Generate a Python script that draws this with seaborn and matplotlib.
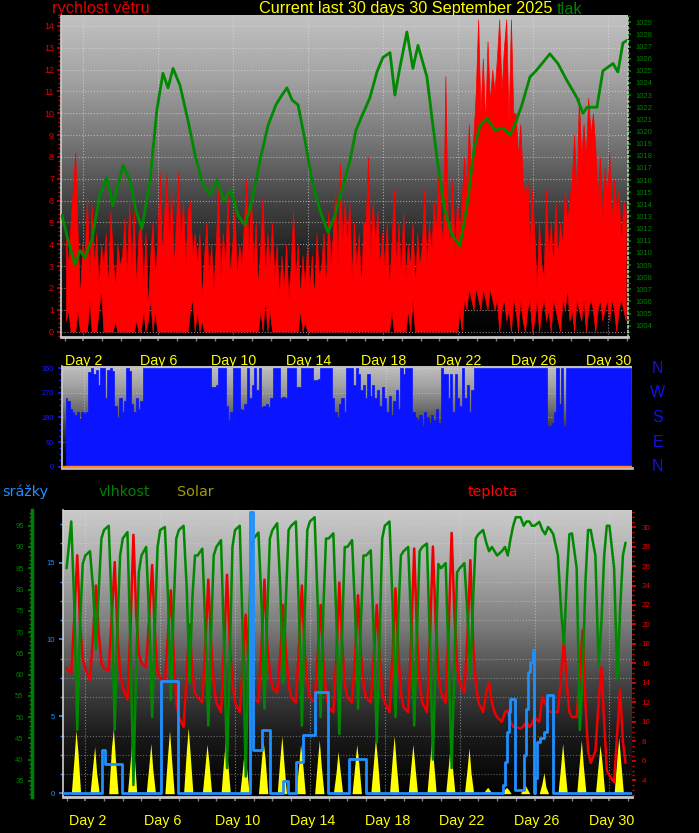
import numpy as np
import pandas as pd
import matplotlib
matplotlib.use("Agg")
import matplotlib.pyplot as plt
import matplotlib.transforms as mtransforms
import seaborn as sns
from matplotlib.colors import LinearSegmentedColormap
from matplotlib.ticker import MultipleLocator

sns.set_theme(style="dark")
plt.rcParams['font.family'] = ['Liberation Sans', 'DejaVu Sans']

# ---- data (days since 1 Sep 00:00) ----
press_t = [-0.15, 0.17, 0.55, 0.81, 1.08, 1.45, 1.88, 2.25, 2.57, 2.84, 3.11, 3.48, 3.80, 4.12,
           4.55, 4.92, 5.24, 5.51, 5.78, 6.15, 6.58, 6.95, 7.38, 7.75, 8.12, 8.50, 8.87, 9.25,
           9.62, 9.99, 10.42, 10.85, 11.27, 11.59, 11.86, 12.13, 12.45, 12.82, 13.19, 13.62,
           14.05, 14.42, 14.79, 15.22, 15.54, 15.81, 16.29, 16.66, 16.98, 17.36, 17.62, 17.89,
           18.26, 18.58, 18.85, 19.33, 19.60, 19.92, 20.29, 20.66, 21.09, 21.47, 21.84, 22.16,
           22.53, 22.96, 23.39, 23.76, 24.08, 24.40, 24.83, 25.15, 25.47, 25.89, 26.32, 26.80,
           27.33, 27.66, 27.87, 28.40, 28.72, 29.26, 29.52, 29.79, 30.00]
press = [1013.1, 1011.1, 1009.0, 1010.2, 1009.6, 1011.1, 1014.8, 1016.2, 1013.9, 1015.6, 1017.2,
         1016.0, 1013.5, 1012.0, 1016.0, 1021.8, 1024.8, 1023.6, 1025.2, 1023.8, 1020.9, 1018.1,
         1015.6, 1014.8, 1016.0, 1014.3, 1015.2, 1013.1, 1012.3, 1014.3, 1017.6, 1020.5, 1022.2,
         1023.0, 1023.6, 1022.6, 1022.2, 1019.3, 1016.0, 1013.5, 1011.7, 1013.1, 1015.2, 1017.6,
         1020.1, 1021.1, 1022.8, 1024.9, 1026.1, 1026.5, 1023.0, 1025.3, 1028.2, 1025.2, 1027.1,
         1024.5, 1021.1, 1017.2, 1013.5, 1011.5, 1010.6, 1013.9, 1018.5, 1020.5, 1021.1, 1020.1,
         1020.3, 1019.7, 1020.8, 1022.2, 1024.5, 1025.0, 1025.6, 1026.4, 1025.6, 1024.2, 1022.8,
         1021.5, 1022.0, 1022.0, 1025.0, 1025.6, 1024.9, 1027.3, 1027.5]

# wind gust (top of red) and lull (bottom of red), 8 values per day (3-hourly)
wind_hi = [4.5, 3.0, 5.0, 6.6, 8.2, 4.5, 1.5, 4.0,
           3.5, 6.2, 2.5, 5.8, 3.0, 4.5, 2.0, 4.0,
           3.0, 4.5, 2.0, 5.5, 3.5, 2.0, 4.0, 3.0,
           3.5, 5.2, 2.5, 6.0, 3.0, 5.5, 2.0, 4.5,
           5.0, 2.0, 4.5, 1.0, 3.5, 5.0, 2.5, 4.0,
           7.3, 3.5, 5.5, 7.2, 4.0, 6.5, 3.0, 5.0,
           7.3, 4.0, 6.0, 3.0, 5.5, 6.0, 3.5, 4.5,
           3.0, 4.5, 1.5, 3.5, 5.0, 2.5, 4.0, 2.0,
           4.0, 6.5, 2.5, 4.5, 3.0, 6.3, 2.5, 4.0,
           5.5, 2.5, 4.0, 3.0, 5.0, 7.0, 3.5, 6.3,
           3.0, 5.0, 2.0, 4.0, 6.2, 2.5, 4.5, 3.0,
           5.0, 2.5, 4.0, 1.5, 3.5, 2.0, 4.0, 1.5,
           3.0, 5.5, 2.5, 4.0, 1.5, 3.5, 2.0, 4.0,
           2.0, 3.5, 1.5, 4.5, 2.5, 3.0, 4.5, 2.0,
           5.5, 3.0, 4.5, 6.5, 3.0, 7.7, 4.0, 6.0,
           4.0, 6.0, 2.5, 5.0, 3.0, 4.5, 2.0, 5.0,
           5.0, 8.0, 3.5, 6.0, 4.0, 5.5, 3.0, 4.5,
           3.0, 5.0, 2.0, 4.0, 6.5, 3.0, 5.0, 2.5,
           5.5, 2.5, 4.0, 3.0, 5.0, 2.0, 4.5, 3.0,
           4.0, 6.5, 3.0, 5.0, 3.5, 6.0, 4.5, 7.7,
           5.0, 4.0, 11.7, 5.0, 4.0, 7.0, 3.5, 6.0,
           4.5, 6.0, 8.0, 6.5, 9.5, 7.0, 9.0, 11.0,
           14.3, 10.0, 12.5, 9.5, 13.3, 10.5, 12.0, 11.0,
           12.5, 14.3, 11.0, 13.0, 14.3, 9.5, 14.3, 10.0,
           10.0, 8.0, 9.5, 7.0, 6.0, 7.0, 4.0, 6.5,
           4.5, 2.0, 5.0, 3.0, 2.5, 6.5, 3.5, 5.0,
           3.0, 6.0, 3.5, 5.0, 4.0, 6.5, 5.0, 6.0,
           7.0, 9.0, 6.0, 10.7, 8.0, 9.5, 8.0, 10.7,
           9.0, 10.0, 8.5, 6.0, 8.0, 5.0, 7.5, 6.0,
           8.2, 5.0, 7.0, 5.5, 6.5, 4.0, 6.0, 5.5]
wind_lo = [0.5, 1.0, 0.0, 0.0, 0.0, 1.0, 0.0, 0.0,
           0.0, 0.0, 1.5, 0.0, 0.0, 0.0, 1.0, 2.0,
           0.0, 0.0, 0.0, 0.0, 0.0, 0.5, 0.0, 0.0,
           0.0, 0.0, 0.0, 0.0, 0.0, 0.0, 0.5, 0.0,
           0.0, 1.0, 0.0, 0.5, 1.5, 0.0, 1.0, 0.0,
           0.0, 0.0, 0.0, 0.0, 0.0, 0.0, 0.0, 0.0,
           0.0, 0.0, 0.0, 0.0, 0.0, 1.0, 1.5, 0.0,
           1.0, 0.0, 0.5, 0.0, 0.0, 0.0, 0.0, 0.0,
           0.0, 0.0, 0.0, 0.0, 0.0, 0.0, 0.0, 0.0,
           0.0, 0.0, 0.0, 0.0, 0.0, 0.0, 0.0, 0.0,
           0.0, 0.0, 0.0, 1.0, 0.0, 1.5, 0.0, 1.0,
           0.0, 0.0, 0.0, 0.0, 0.0, 0.0, 0.0, 0.0,
           0.0, 0.0, 0.0, 0.0, 1.0, 0.0, 0.5, 0.0,
           0.0, 0.0, 0.0, 0.0, 0.0, 0.0, 0.0, 0.0,
           0.0, 0.0, 0.0, 0.0, 0.0, 0.0, 0.0, 0.0,
           0.0, 0.0, 0.0, 0.0, 0.0, 0.0, 0.0, 0.0,
           0.0, 0.0, 0.0, 0.0, 0.0, 0.0, 0.0, 0.0,
           0.0, 0.0, 0.0, 1.0, 0.0, 0.0, 0.0, 0.0,
           0.0, 0.0, 1.0, 0.0, 1.5, 0.0, 0.0, 0.0,
           0.0, 0.0, 0.0, 0.0, 0.0, 0.0, 0.0, 0.0,
           0.0, 0.0, 0.0, 0.0, 0.0, 0.0, 0.0, 0.0,
           1.0, 0.0, 1.5, 1.0, 2.0, 1.5, 1.0, 2.0,
           1.5, 1.0, 2.0, 1.5, 1.0, 2.0, 1.5, 1.0,
           1.5, 0.0, 1.0, 1.5, 0.5, 1.0, 0.0, 1.5,
           1.0, 0.0, 1.5, 0.5, 0.0, 1.0, 1.5, 0.0,
           0.5, 1.5, 0.0, 1.0, 1.5, 0.5, 1.0, 0.0,
           1.5, 1.0, 0.5, 0.0, 1.5, 1.0, 2.0, 0.5,
           1.0, 0.0, 1.5, 1.0, 0.5, 1.5, 0.0, 1.0,
           1.5, 1.0, 0.0, 1.0, 1.5, 0.5, 1.0, 1.5,
           0.5, 1.5, 1.0, 0.0, 1.0, 1.5, 1.0, 0.5]

# wind direction (deg), 8 values per day (3-hourly)
wdir = [250, 240, 210, 200, 190, 200, 175, 200,
        195, 200, 345, 360, 340, 355, 300, 360,
        360, 250, 355, 360, 350, 220, 180, 250,
        200, 240, 360, 350, 230, 200, 250, 210,
        240, 360, 360, 360, 360, 360, 360, 360,
        360, 360, 360, 360, 360, 360, 360, 360,
        360, 360, 360, 360, 360, 360, 360, 360,
        360, 360, 360, 360, 360, 360, 293, 290,
        300, 360, 360, 360, 220, 170, 200, 360,
        360, 360, 210, 207, 230, 360, 250, 300,
        360, 280, 360, 217, 220, 230, 217, 250,
        360, 360, 360, 250, 255, 250, 360, 360,
        360, 360, 293, 293, 360, 360, 360, 360,
        360, 317, 317, 320, 360, 360, 360, 360,
        360, 250, 200, 180, 230, 250, 200, 360,
        360, 360, 300, 360, 340, 280, 300, 250,
        340, 260, 300, 250, 280, 220, 290, 250,
        200, 260, 190, 240, 280, 210, 360, 340,
        360, 360, 360, 200, 180, 170, 190, 150,
        200, 180, 160, 190, 170, 210, 160, 360,
        340, 340, 250, 340, 200, 340, 250, 220,
        360, 250, 300, 200, 280, 360, 360, 360,
        360, 360, 360, 360, 360, 360, 360, 360,
        360, 360, 360, 360, 360, 360, 360, 360,
        360, 360, 360, 360, 360, 360, 360, 360,
        360, 360, 360, 360, 150, 147, 160, 200,
        360, 230, 360, 150, 360, 360, 360, 360,
        360, 360, 360, 360, 360, 360, 360, 360,
        360, 360, 360, 360, 360, 360, 360, 360,
        360, 360, 360, 360, 360, 360, 360, 360]

# humidity (%) and temperature (C), 6 readings per day
hum = [85, 96, 75, 47, 72, 86,  88, 89, 80, 66, 80, 92,  94, 95, 74, 47, 72, 88,
       92, 93.5, 65, 34, 62, 84,  88, 90, 72, 50, 72, 90,  94, 94.7, 78, 54, 76, 92,
       94, 95, 80, 58, 78, 88,  88, 89.6, 70, 48, 70, 88,  90, 91.6, 66, 38, 64, 90,
       94, 95, 68, 36, 66, 90,  92, 93.4, 76, 52, 74, 92,  94, 95.6, 80, 58, 78, 94,
       95, 96, 74, 48, 74, 94,  96, 97, 76, 50, 76, 92,  92, 93.2, 72, 46, 70, 90,
       90, 91.6, 74, 52, 72, 88,  88, 89.2, 68, 44, 68, 92,  95, 96, 76, 50, 74, 88,
       89, 90, 70, 48, 70, 89,  90, 90.8, 66, 40, 64, 86,  85, 86.2, 62, 38, 62, 84,
       85, 86.2, 74, 60, 78, 92,  93, 94, 91, 89, 90, 89,  88, 89, 90, 88, 92, 95,
       97, 97, 95, 96, 96, 95,  95, 95.9, 94, 93, 94.7, 94,  93, 88, 75, 67, 82, 93,
       93.2, 85, 47, 60, 82, 94,  94, 88, 62, 72, 88, 95,  95, 85, 59, 75, 88, 91]
temp = [15.5, 15, 21, 27.1, 20, 16.5,  15.5, 14.3, 19, 24, 19, 16,  15.5, 15.3, 21, 26.4, 19, 15,
        13.5, 12.3, 20, 29.2, 21, 17,  16, 15.6, 21, 26.1, 19, 15,  14.5, 14, 19, 23.5, 17, 12,
        10.5, 9.5, 15, 20, 15, 13,  12.5, 12, 18, 24.6, 18, 14,  12, 11, 18, 25.1, 18, 14,
        12, 11, 16, 21, 16, 13,  12.5, 12, 18, 24.6, 18, 15,  13.5, 13, 17, 22, 17, 14,
        12.5, 12, 18, 24, 17, 14,  12.5, 12, 17, 22, 16, 13,  11.5, 11, 17, 24.3, 18, 14,
        12.5, 12, 17, 23, 17, 14,  12.5, 12, 17, 22, 17, 13,  12, 11, 17, 23.7, 17, 13,
        11.5, 11, 19, 27.8, 19, 14,  12, 11, 19, 28, 20, 15,  13, 12, 20, 29.4, 21, 16,
        14, 13, 19, 26.6, 18, 14,  12, 11, 13, 14, 12, 11,  10.5, 10, 11, 11.2, 10, 9.5,
        9.5, 9.3, 9.6, 10, 9.5, 9.8,  10.5, 10, 12.6, 12, 11.2, 11,  11, 11, 15, 18.4, 14, 11,
        10.5, 10.5, 15, 19.4, 12, 7,  5.8, 7, 12, 15.6, 10, 5,  4.5, 3.8, 9, 13.3, 8, 5.8]

# solar radiation at 9:30, 12:00, 14:30 each day (W/m2)
solar = [500, 900, 600, 400, 670, 300, 650, 925, 500, 450, 830, 600, 400, 715, 350, 550, 900, 500,
         600, 940, 550, 400, 700, 450, 500, 800, 450, 350, 650, 400, 450, 750, 500, 500, 820, 450,
         400, 700, 450, 450, 760, 400, 300, 600, 350, 400, 700, 450, 450, 780, 500, 500, 820, 450,
         400, 700, 400, 450, 760, 450, 400, 720, 400, 350, 650, 300, 60, 90, 50, 60, 90, 60,
         80, 120, 70, 150, 300, 100, 400, 715, 400, 450, 760, 400, 400, 690, 450, 500, 800, 450]

# rain (step, post)
rain_t = [-0.2, 1.89, 2.05, 2.96, 5.04, 5.95, 9.80, 9.96, 10.44, 10.87, 11.56, 11.83, 12.25,
          12.62, 13.27, 13.96, 15.08, 15.99, 23.31, 23.42, 23.53, 23.63, 23.68, 23.95, 24.43,
          24.54, 24.64, 24.75, 24.91, 24.97, 25.02, 25.13, 25.29, 25.50, 25.66, 25.98, 30.2]
rain = [0, 2.8, 1.9, 0, 7.3, 0, 18.3, 2.8, 4.1, 0, 0.8, 0, 2.0, 3.8, 6.6, 0, 2.2, 0, 0.5, 2.0,
        4.0, 5.3, 6.1, 0.2, 2.5, 5.5, 7.9, 8.5, 9.3, 0, 1.0, 3.3, 3.6, 4.0, 6.4, 0, 0]

day_labels = ["Day 2", "Day 6", "Day 10", "Day 14", "Day 18", "Day 22", "Day 26", "Day 30"]
day_ticks = [1, 5, 9, 13, 17, 21, 25, 29]

# ---- derived frames ----
df_wind = pd.DataFrame({"t": np.arange(len(wind_hi)) / 8 + 1 / 16, "hi": wind_hi, "lo": wind_lo})
df_dir = pd.DataFrame({"t": np.arange(len(wdir)) / 8 + 1 / 16, "dir": wdir})
df_press = pd.DataFrame({"t": press_t, "p": press})
df_ht = pd.DataFrame({"t": np.repeat(np.arange(30), 6) + np.tile([0.0, 0.25, 0.42, 0.57, 0.72, 0.86], 30),
                      "h": hum, "T": temp})
sol_t = np.repeat(np.arange(30), 5) + np.tile([6, 9.5, 12, 14.5, 18], 30) / 24
sol_v = []
for d in range(30):
    sol_v += [0] + solar[3 * d:3 * d + 3] + [0]
df_sol = pd.DataFrame({"t": sol_t, "s": sol_v})

XL_TOP = (-0.2, 30.06)
XL_MID = (-0.15, 30.0)
XL_BOT = (-0.176, 30.19)
W, H = 699, 833
fig = plt.figure(figsize=(W / 100, H / 100), dpi=100, facecolor="black")


def box(x0, y0, x1, y1):
    return [x0 / W, 1 - y1 / H, (x1 - x0) / W, (y1 - y0) / H]


def backdrop(ax, stops):
    cmap = LinearSegmentedColormap.from_list("bg", stops)
    grad = np.linspace(0, 1, 256).reshape(-1, 1)
    ax.imshow(grad, cmap=cmap, aspect="auto", extent=[0, 1, 0, 1],
              transform=ax.transAxes, zorder=0, interpolation="bilinear")


def frame(ax, bottom_color="#c8c8c8"):
    for s in ax.spines.values():
        s.set_visible(False)
    ax.spines["left"].set_visible(True)
    ax.spines["left"].set_color("#d0d0d0")
    ax.spines["left"].set_linewidth(1.2)
    ax.spines["bottom"].set_visible(True)
    ax.spines["bottom"].set_color(bottom_color)
    ax.spines["bottom"].set_linewidth(2)


def day_axis(ax, shift_px=0.0):
    ax.set_xticks(day_ticks)
    ax.set_xticklabels(day_labels)
    ax.xaxis.set_minor_locator(MultipleLocator(1))
    ax.tick_params(axis="x", which="both", bottom=True, colors="#808080", length=3,
                   labelcolor="#ffff00", labelsize=10.3, pad=9)
    if shift_px:
        off = mtransforms.ScaledTranslation(shift_px / 100, 0, fig.dpi_scale_trans)
        for lab in ax.get_xticklabels():
            lab.set_transform(lab.get_transform() + off)


grey_stops = ["#c2c2c2", "#a2a2a2", "#747474", "#3e3e3e", "#141414", "#000000"]

# ---- top panel: wind speed + pressure ----
ax_w = fig.add_axes(box(61, 15, 628, 337))
backdrop(ax_w, grey_stops)
frame(ax_w)
ax_w.fill_between(df_wind["t"], df_wind["lo"], df_wind["hi"], color="#ff0000", lw=0.5,
                  edgecolor="#ff0000", zorder=2)
ax_w.set_xlim(*XL_TOP)
ax_w.set_ylim(-0.25, 14.5)
ax_w.yaxis.set_major_locator(MultipleLocator(1))
ax_w.yaxis.set_minor_locator(MultipleLocator(0.2))
ax_w.tick_params(axis="y", which="both", left=True, colors="#e00000", labelsize=6.5,
                 direction="out", pad=2)
ax_w.tick_params(axis="y", which="major", length=3, width=1.2)
ax_w.tick_params(axis="y", which="minor", length=2, width=1)
day_axis(ax_w)
ax_w.grid(True, which="major", color="#e0e0e0", linestyle=":", linewidth=0.8, alpha=0.6)

ax_p = ax_w.twinx()
sns.lineplot(data=df_press, x="t", y="p", ax=ax_p, color="#008800", linewidth=2.0)
ax_p.set_ylim(1003.07, 1029.6)
ax_p.set_xlim(*XL_TOP)
ax_p.set_ylabel("")
ax_p.set_xlabel("")
for s in ax_p.spines.values():
    s.set_visible(False)
ax_p.spines["right"].set_visible(True)
ax_p.spines["right"].set_color("#b0d0b0")
ax_p.spines["right"].set_linestyle(":")
ax_p.yaxis.set_major_locator(MultipleLocator(1))
ax_p.yaxis.set_minor_locator(MultipleLocator(0.5))
ax_p.tick_params(axis="y", which="both", right=True, colors="#008000", labelsize=5.5,
                 direction="out", pad=3)
ax_p.tick_params(axis="y", which="minor", length=1.5)
ax_p.tick_params(axis="y", which="major", length=2.5)
ax_p.grid(False)

# ---- middle panel: wind direction ----
ax_d = fig.add_axes(box(62, 366, 632, 468))
backdrop(ax_d, grey_stops)
frame(ax_d, bottom_color="#c8b0b0")
ax_d.fill_between(df_dir["t"], 0, df_dir["dir"], step="mid", color="#0a14ff", lw=0.5,
                  edgecolor="#0a14ff", zorder=2)
ax_d.axhline(1.5, color="#ff8c1a", lw=1.0, zorder=3)
ax_d.set_xlim(*XL_MID)
ax_d.set_ylim(-5, 368)
ax_d.set_yticks([0, 90, 180, 270, 360])
ax_d.yaxis.set_minor_locator(MultipleLocator(22.5))
ax_d.set_xticks(day_ticks)
ax_d.set_xticklabels([])
ax_d.tick_params(axis="x", which="both", bottom=False)
ax_d.tick_params(axis="y", which="both", left=True, colors="#1a1aff", labelsize=5.3,
                 direction="out", pad=3)
ax_d.tick_params(axis="y", which="major", length=3)
ax_d.tick_params(axis="y", which="minor", length=2)
ax_d.grid(True, which="major", color="#e0e0e0", linestyle=":", linewidth=0.8, alpha=0.5)
for lab, v in zip(["N", "W", "S", "E", "N"], [360, 270, 180, 90, 0]):
    ax_d.text(1.045, (v + 5) / 373, lab, transform=ax_d.transAxes, color="#1010ee",
              fontsize=11.5, ha="center", va="center")

# ---- bottom panel: rain, humidity, solar, temperature ----
ax_b = fig.add_axes(box(63.3, 510, 631.7, 797))
backdrop(ax_b, ["#cacaca", "#ababab", "#7c7c7c", "#444444", "#181818", "#000000"])
frame(ax_b)
ax_b.set_xlim(*XL_BOT)
ax_b.set_ylim(-0.25, 18.42)
ax_b.yaxis.set_major_locator(MultipleLocator(5))
ax_b.yaxis.set_minor_locator(MultipleLocator(1.25))
ax_b.tick_params(axis="y", which="both", left=True, colors="#1e8fff", labelsize=5.5,
                 direction="out", pad=3)
ax_b.tick_params(axis="y", which="major", length=3)
ax_b.tick_params(axis="y", which="minor", length=2)
day_axis(ax_b, shift_px=2.5)
ax_b.grid(True, which="major", axis="x", color="#e0e0e0", linestyle=":", linewidth=0.8, alpha=0.5)
ax_b.grid(True, which="minor", axis="y", color="#e0e0e0", linestyle=":", linewidth=0.8, alpha=0.4)

ax_s = ax_b.twinx()
ax_s.fill_between(df_sol["t"], 0, df_sol["s"], color="#ffff00", lw=0)
ax_s.set_ylim(-47, 4030)
ax_s.set_xlim(*XL_BOT)
ax_s.axis("off")

ax_t = ax_b.twinx()
sns.lineplot(data=df_ht, x="t", y="T", ax=ax_t, color="#ee0000", linewidth=1.8)
ax_t.set_ylim(2.29, 31.75)
ax_t.set_xlim(*XL_BOT)
ax_t.set_xlabel("")
ax_t.set_ylabel("")
for s in ax_t.spines.values():
    s.set_visible(False)
ax_t.set_yticks(np.arange(4, 31, 2))
ax_t.yaxis.set_minor_locator(MultipleLocator(0.5))
ax_t.tick_params(axis="y", which="both", right=True, colors="#ee0000", labelsize=5.8,
                 direction="out", pad=4)
ax_t.tick_params(axis="y", which="major", length=3)
ax_t.tick_params(axis="y", which="minor", length=1.5)
ax_t.grid(False)

ax_h = ax_b.twinx()
sns.lineplot(data=df_ht, x="t", y="h", ax=ax_h, color="#008800", linewidth=1.8)
ax_h.set_ylim(31.2, 98.7)
ax_h.set_xlim(*XL_BOT)
ax_h.set_xlabel("")
ax_h.set_ylabel("")
for s in ax_h.spines.values():
    s.set_visible(False)
ax_h.yaxis.tick_left()
ax_h.spines["left"].set_visible(True)
ax_h.spines["left"].set_position(("axes", -0.055))
ax_h.spines["left"].set_color("#008000")
ax_h.spines["left"].set_linewidth(2.5)
ax_h.set_yticks(np.arange(35, 96, 5))
ax_h.yaxis.set_minor_locator(MultipleLocator(1))
ax_h.tick_params(axis="y", which="both", left=True, right=False, colors="#008000",
                 labelsize=5.5, direction="out", pad=3)
ax_h.tick_params(axis="y", which="major", length=3)
ax_h.tick_params(axis="y", which="minor", length=2)
ax_h.grid(False)

ax_r = ax_b.twinx()
ax_r.step(rain_t, rain, where="post", color="#1e8fff", linewidth=2)
ax_r.set_ylim(-0.25, 18.42)
ax_r.set_xlim(*XL_BOT)
ax_r.axis("off")


# ---- texts ----
def ftxt(x, y, s, color, size, family=None, ha="left"):
    kw = {}
    if family:
        kw["family"] = family
    fig.text(x / W, 1 - y / H, s, color=color, fontsize=size, ha=ha, va="baseline", **kw)


ftxt(52, 13.5, "rychlost větru", "#e00000", 11.8)
ftxt(259, 13.5, "Current last 30 days 30 September 2025", "#ffff00", 11.7)
ftxt(557, 13.5, "tlak", "#008000", 11.7)
ftxt(2, 496, "srážky", "#1e8fff", 10.4, family=["DejaVu Sans"])
ftxt(99, 496, "vlhkost", "#008000", 10.4, family=["DejaVu Sans"])
ftxt(177, 496, "Solar", "#a09a00", 10.4, family=["DejaVu Sans"])
ftxt(468, 496, "teplota", "#ff0000", 10.2, family=["DejaVu Sans"])

fig.savefig("out.png", dpi=100, facecolor="black")
